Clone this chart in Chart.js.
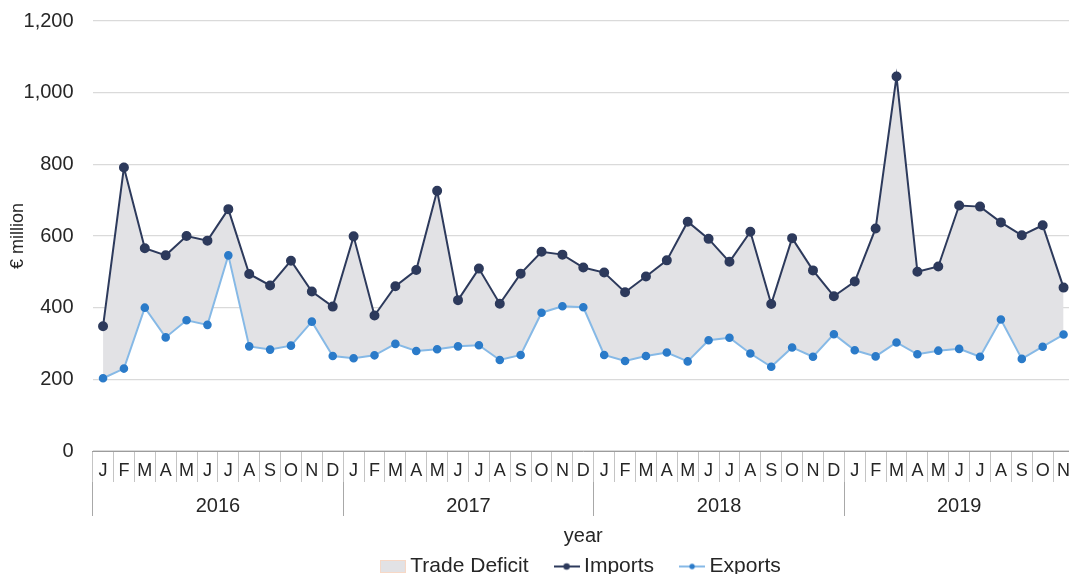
<!DOCTYPE html>
<html>
<head>
<meta charset="utf-8">
<script src="https://cdn.jsdelivr.net/npm/chart.js@4.4.1/dist/chart.umd.min.js"></script>
<style>
  html, body { margin: 0; padding: 0; background: #fff; overflow: hidden; }
  #wrap { position: relative; width: 1080px; height: 597px; margin-top: -10px; }
</style>
</head>
<body>
<div id="wrap"><canvas id="tradeChart"></canvas></div>
<script>
// months Jan 2016 .. Nov 2019
const monthLetters = ['J', 'F', 'M', 'A', 'M', 'J', 'J', 'A', 'S', 'O', 'N', 'D'];
const yearLabels = ['2016', '2017', '2018', '2019'];
const monthsPerYear = [12, 12, 12, 11];

// € million
const importValues = [
  348, 791, 566, 546, 600, 587, 675, 494, 462, 531, 445, 403,
  599, 378, 460, 505, 726, 421, 509, 411, 495, 556, 548, 512,
  498, 443, 487, 532, 640, 592, 528, 612, 410, 594, 504, 432,
  473, 621, 1045, 500, 515, 685, 682, 638, 602, 630, 456
];
const exportValues = [
  203, 230, 400, 317, 365, 352, 546, 292, 283, 294, 361, 265,
  259, 267, 299, 279, 284, 292, 295, 254, 268, 386, 404, 401,
  268, 251, 265, 275, 250, 309, 316, 272, 235, 289, 263, 326,
  281, 264, 303, 270, 280, 285, 263, 367, 257, 291, 325
];

const FONT = 'Liberation Sans, Arial, sans-serif';
const TEXT = '#262626';

const monthLabels = monthsPerYear.flatMap(n => monthLetters.slice(0, n));

// year boundaries and centres on the month index scale
const yearBounds = [];
const yearCentres = {};
let start = 0;
monthsPerYear.forEach((n, i) => {
  yearBounds.push(start - 0.5);
  yearCentres[start + (n - 1) / 2] = yearLabels[i];
  start += n;
});
yearBounds.push(start - 0.5);

function lineSwatch(lineColor, dotColor, r) {
  const c = document.createElement('canvas');
  c.width = 26;
  c.height = 10;
  const g = c.getContext('2d');
  g.strokeStyle = lineColor;
  g.lineWidth = 2;
  g.beginPath();
  g.moveTo(0, 5);
  g.lineTo(26, 5);
  g.stroke();
  g.fillStyle = dotColor;
  g.beginPath();
  g.arc(13, 5, r, 0, Math.PI * 2);
  g.fill();
  return c;
}

function boxSwatch() {
  const c = document.createElement('canvas');
  c.width = 26;
  c.height = 13;
  const g = c.getContext('2d');
  g.fillStyle = '#e2e2e5';
  g.fillRect(0, 0, 26, 13);
  g.strokeStyle = '#f7d8c6';
  g.lineWidth = 1;
  g.strokeRect(0.5, 0.5, 25, 12);
  return c;
}

const swatches = [boxSwatch(), lineSwatch('#2d3a5c', '#2d3a5c', 3.2), lineSwatch('#86b9e6', '#2b7bc9', 2.7)];

const ctx = document.getElementById('tradeChart').getContext('2d');

new Chart(ctx, {
  type: 'line',
  data: {
    labels: monthLabels,
    datasets: [
      {
        label: 'Trade Deficit',
        data: importValues,
        fill: 2,
        backgroundColor: '#e2e2e5',
        borderColor: 'rgba(0,0,0,0)',
        borderWidth: 0,
        pointRadius: 0,
        pointHoverRadius: 0
      },
      {
        label: 'Imports',
        data: importValues,
        borderColor: '#2d3a5c',
        backgroundColor: '#2d3a5c',
        pointBackgroundColor: '#2d3a5c',
        pointBorderColor: '#2d3a5c',
        borderWidth: 2,
        pointRadius: 4,
        fill: false,
        tension: 0
      },
      {
        label: 'Exports',
        data: exportValues,
        borderColor: '#86b9e6',
        backgroundColor: '#2b7bc9',
        pointBackgroundColor: '#2b7bc9',
        pointBorderColor: '#2b7bc9',
        borderWidth: 2,
        pointRadius: 3.3,
        fill: false,
        tension: 0
      }
    ]
  },
  options: {
    responsive: true,
    maintainAspectRatio: false,
    animation: false,
    layout: { padding: { top: 0, left: 3, right: 0, bottom: 0 } },
    plugins: {
      filler: { drawTime: 'beforeDatasetsDraw' },
      tooltip: { enabled: false },
      legend: {
        position: 'bottom',
        fullSize: false,
        labels: {
          font: { family: FONT, size: 21 },
          color: TEXT,
          usePointStyle: true,
          pointStyleWidth: 14,
          boxHeight: 13,
          padding: 31,
          generateLabels(chart) {
            const items = Chart.defaults.plugins.legend.labels.generateLabels(chart);
            items.forEach((it, i) => { it.pointStyle = swatches[i]; });
            return items;
          }
        }
      }
    },
    scales: {
      y: {
        min: 0,
        max: 1200,
        afterFit(scale) { scale.width = 89.6; },
        ticks: {
          stepSize: 200,
          padding: 19,
          color: TEXT,
          font: { family: FONT, size: 20 }
        },
        grid: { color: '#dadada', lineWidth: 1.2, drawTicks: false },
        border: { display: false },
        title: {
          display: true,
          text: '€ million',
          color: TEXT,
          font: { family: FONT, size: 18 },
          padding: { top: 4, bottom: 0 }
        }
      },
      x: {
        type: 'category',
        offset: true,
        weight: 0,
        afterFit(scale) { scale.height = 31; },
        grid: {
          offset: true,
          drawOnChartArea: false,
          tickLength: 31,
          color: '#c4c4c4'
        },
        border: { color: '#9c9c9c', width: 1 },
        ticks: {
          autoSkip: false,
          maxRotation: 0,
          padding: -22.2,
          color: TEXT,
          font: { family: FONT, size: 18 }
        }
      },
      x2: {
        type: 'linear',
        position: 'bottom',
        weight: 1,
        min: yearBounds[0],
        max: yearBounds[yearBounds.length - 1],
        afterFit(scale) { scale.height = 43; },
        afterBuildTicks(axis) {
          const vals = yearBounds.concat(Object.keys(yearCentres).map(Number)).sort((a, b) => a - b);
          axis.ticks = vals.map(v => ({ value: v }));
        },
        grid: {
          drawOnChartArea: false,
          tickLength: 34,
          color: c => (c.tick && yearCentres[c.tick.value] !== undefined) ? 'rgba(0,0,0,0)' : '#a8a8a8'
        },
        border: { display: false },
        ticks: {
          autoSkip: false,
          maxRotation: 0,
          padding: -22,
          color: TEXT,
          font: { family: FONT, size: 20 },
          callback: v => yearCentres[v] || ''
        },
        title: {
          display: true,
          text: 'year',
          color: TEXT,
          font: { family: FONT, size: 20 },
          padding: { top: 0, bottom: -23 }
        }
      }
    }
  }
});
</script>
</body>
</html>
